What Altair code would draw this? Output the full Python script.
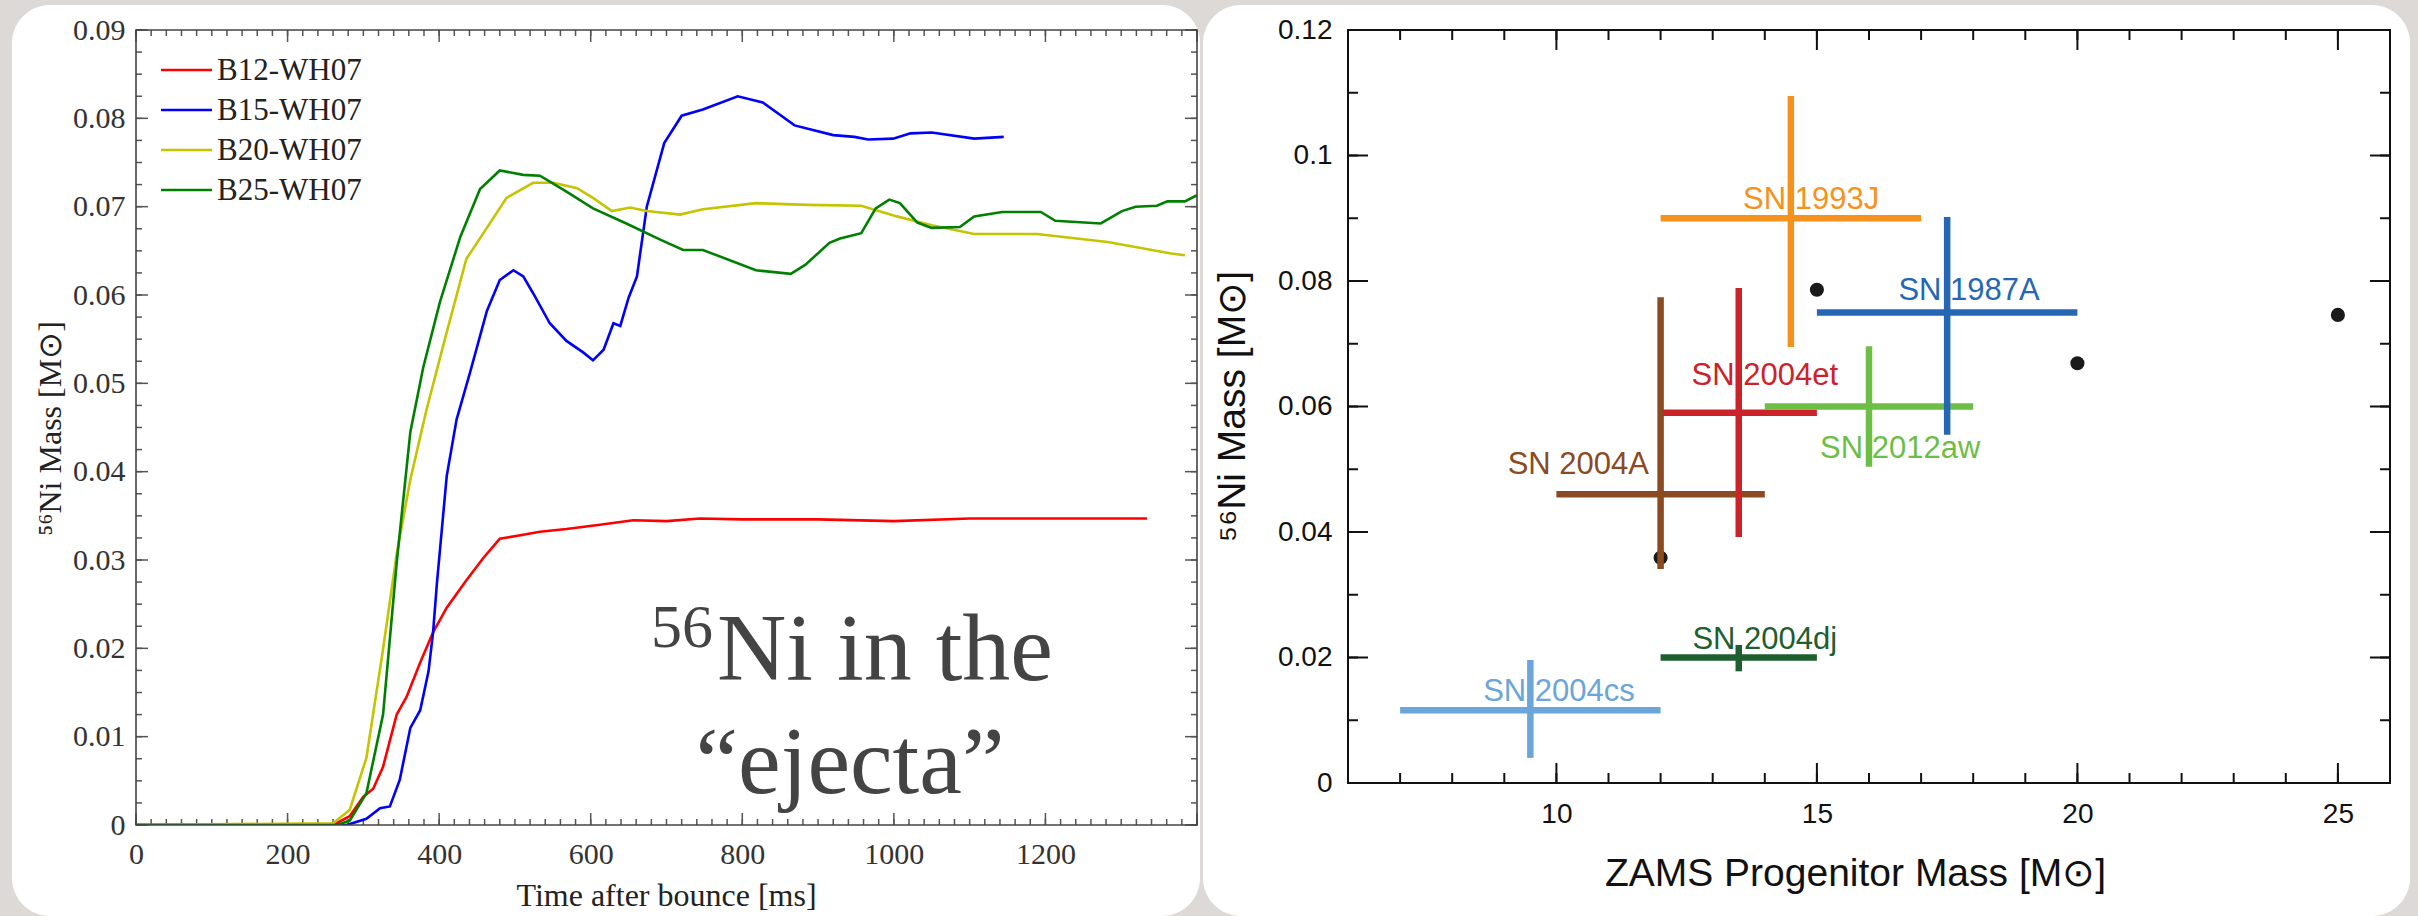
import altair as alt
import pandas as pd

# ---------------- Left panel: 56Ni mass vs time after bounce ----------------
series_names = ["B12-WH07", "B15-WH07", "B20-WH07", "B25-WH07"]
series_colors = ["#ff0000", "#0000ff", "#c4c400", "#008000"]

B12_t = [0, 260, 282, 300, 313, 326, 344, 357, 375, 392, 410, 436, 458, 480, 507, 533, 568, 612,
         656, 700, 744, 800, 900, 1000, 1100, 1200, 1334]
B12_m = [0, 0, 0.0010, 0.0032, 0.0041, 0.0066, 0.0125, 0.0145, 0.0184, 0.0218, 0.0246, 0.0277,
         0.0302, 0.0324, 0.0328, 0.0332, 0.0335, 0.0340, 0.0345, 0.0344, 0.0347, 0.0346, 0.0346,
         0.0344, 0.0347, 0.0347, 0.0347]

B15_t = [0, 278, 304, 322, 335, 348, 362, 375, 386, 392, 397, 410, 423, 441, 463, 480, 498, 511,
         524, 546, 568, 590, 603, 617, 630, 639, 650, 661, 674, 697, 720, 748, 794, 827, 869, 920,
         948, 966, 999, 1022, 1050, 1106, 1145]
B15_m = [0, 0, 0.0007, 0.0019, 0.0021, 0.0051, 0.0110, 0.0130, 0.0174, 0.0218, 0.0273, 0.0395,
         0.0459, 0.0513, 0.0582, 0.0617, 0.0628, 0.0621, 0.0602, 0.0568, 0.0548, 0.0535, 0.0526,
         0.0538, 0.0568, 0.0565, 0.0597, 0.0621, 0.0700, 0.0772, 0.0803, 0.0810, 0.0825, 0.0818,
         0.0792, 0.0781, 0.0779, 0.0776, 0.0777, 0.0783, 0.0784, 0.0777, 0.0779]

B20_t = [0, 260, 282, 304, 326, 344, 362, 383, 410, 436, 463, 489, 524, 551, 582, 603, 628, 652,
         674, 718, 748, 818, 887, 957, 1004, 1050, 1106, 1189, 1282, 1366, 1384]
B20_m = [0, 0.0002, 0.0017, 0.0076, 0.0199, 0.0307, 0.0391, 0.0469, 0.0558, 0.0641, 0.0676,
         0.0710, 0.0727, 0.0727, 0.0721, 0.0710, 0.0695, 0.0699, 0.0695, 0.0691, 0.0697, 0.0704,
         0.0702, 0.0701, 0.0689, 0.0679, 0.0669, 0.0669, 0.0660, 0.0647, 0.0645]

B25_t = [0, 265, 282, 304, 326, 344, 362, 379, 401, 428, 454, 480, 511, 533, 568, 603, 647, 691,
         722, 748, 818, 864, 883, 915, 929, 957, 976, 994, 1008, 1031, 1050, 1087, 1106, 1143,
         1194, 1213, 1273, 1301, 1319, 1347, 1361, 1384, 1400]
B25_m = [0, 0, 0.0005, 0.0036, 0.0125, 0.0297, 0.0445, 0.0518, 0.0592, 0.0666, 0.0720, 0.0741,
         0.0736, 0.0735, 0.0717, 0.0698, 0.0681, 0.0663, 0.0651, 0.0651, 0.0628, 0.0624, 0.0634,
         0.0659, 0.0664, 0.0670, 0.0698, 0.0708, 0.0704, 0.0682, 0.0676, 0.0677, 0.0689, 0.0694,
         0.0694, 0.0684, 0.0681, 0.0695, 0.0700, 0.0701, 0.0706, 0.0706, 0.0713]

left_x_labels = [0, 200, 400, 600, 800, 1000, 1200]
left_y_labels = [0, 0.01, 0.02, 0.03, 0.04, 0.05, 0.06, 0.07, 0.08, 0.09]
left_x_major = [0, 200, 400, 600, 800, 1000, 1200, 1400]
left_x_minor = list(range(0, 1401, 20))
left_y_minor = [k * 0.0025 for k in range(37)]

annot_sup = "56"
annot_lines = ["Ni in the", "\u201cejecta\u201d"]

# ---------------- Right panel: SN crosses ----------------
sn_names = ["SN 1993J", "SN 1987A", "SN 2004et", "SN 2004A", "SN 2012aw", "SN 2004dj", "SN 2004cs"]
sn_colors = ["#f5921e", "#2567b4", "#cc2229", "#8b4a22", "#6dbe45", "#1e5e2f", "#6ba5da"]
sn_x = [14.5, 17.5, 13.5, 12.0, 16.0, 13.5, 9.5]
sn_xlo = [12.0, 15.0, 12.0, 10.0, 14.0, 12.0, 7.0]
sn_xhi = [17.0, 20.0, 15.0, 14.0, 18.0, 15.0, 12.0]
sn_y = [0.090, 0.075, 0.059, 0.046, 0.060, 0.020, 0.0116]
sn_ylo = [0.0695, 0.0555, 0.0392, 0.0341, 0.0504, 0.0178, 0.0040]
sn_yhi = [0.1095, 0.0902, 0.0789, 0.0774, 0.0696, 0.0220, 0.0196]
sn_label_x = [14.89, 17.92, 14.0, 10.42, 16.6, 14.0, 10.05]
sn_label_y = [0.0915, 0.0769, 0.0634, 0.0492, 0.0518, 0.0213, 0.0131]

model_mass = [12, 15, 20, 25]
model_ni = [0.0359, 0.0786, 0.0669, 0.0746]

right_x_labels = [10, 15, 20, 25]
right_y_labels = [0, 0.02, 0.04, 0.06, 0.08, 0.1, 0.12]
right_x_minor = list(range(6, 27))
right_y_minor = [k * 0.01 for k in range(13)]

# ---------------- sizes / styles ----------------
WL, HL = 1061, 795
WR, HR = 1042, 753
SERIF = "Liberation Serif"
SANS = "Liberation Sans"

one = pd.DataFrame({"a": [0]})

xL = alt.Scale(domain=[0, 1400], nice=False, zero=False)
yL = alt.Scale(domain=[0, 0.09], nice=False, zero=False)
cL = alt.Scale(domain=series_names, range=series_colors)

axXL = alt.Axis(
    values=left_x_labels, format="d", labelFont=SERIF, labelFontSize=30, labelColor="#333",
    labelPadding=14, labelFlush=False, ticks=False, tickSize=0, domain=False, grid=False,
    title="Time after bounce [ms]", titleFont=SERIF, titleFontSize=32, titleFontWeight="normal",
    titleColor="#222", titleX=530, titleY=80, titleBaseline="alphabetic", titleAlign="center",
    zindex=2)
axYL = alt.Axis(
    values=left_y_labels, format=".2~f", labelFont=SERIF, labelFontSize=30, labelColor="#333",
    labelPadding=11, labelFlush=False, ticks=False, tickSize=0, domain=False, grid=False,
    title="\u2075\u2076Ni Mass [M\u2299]", titleFont=SERIF, titleFontSize=32,
    titleFontWeight="normal", titleColor="#222", titleX=-86, titleY=398, titleAngle=270,
    titleBaseline="middle", titleAlign="center", zindex=2)

xR = alt.Scale(domain=[6, 26], nice=False, zero=False)
yR = alt.Scale(domain=[0, 0.12], nice=False, zero=False)
cR = alt.Scale(domain=sn_names, range=sn_colors)

axXR = alt.Axis(
    values=right_x_labels, format="d", labelFont=SANS, labelFontSize=28, labelColor="#111",
    labelPadding=17, labelFlush=False, ticks=False, tickSize=0, domain=False, grid=False,
    title="ZAMS Progenitor Mass [M\u2299]", titleFont=SANS, titleFontSize=39,
    titleFontWeight="normal", titleColor="#111", titleX=507, titleY=102,
    titleBaseline="alphabetic", titleAlign="center", zindex=2)
axYR = alt.Axis(
    values=right_y_labels, format=".2~f", labelFont=SANS, labelFontSize=28, labelColor="#111",
    labelPadding=16, labelFlush=False, ticks=False, tickSize=0, domain=False, grid=False,
    title="\u2075\u2076Ni Mass [M\u2299]", titleFont=SANS, titleFontSize=39,
    titleFontWeight="normal", titleColor="#111", titleX=-116, titleY=376, titleAngle=270,
    titleBaseline="middle", titleAlign="center", zindex=2)


def tick_layers(xs_minor, xs_major, ys_minor, ys_major, xs, ys, ax, ay, W, H, lmin, lmaj,
                color, width):
    layers = []
    for vals, L in ((xs_minor, lmin), (xs_major, lmaj)):
        df = pd.DataFrame({"v": vals})
        for y0, y1 in ((H, H - L), (0, L)):
            layers.append(alt.Chart(df).mark_rule(color=color, strokeWidth=width).encode(
                x=alt.X("v:Q", scale=xs, axis=ax), y=alt.value(y0), y2=alt.value(y1)))
    for vals, L in ((ys_minor, lmin), (ys_major, lmaj)):
        df = pd.DataFrame({"v": vals})
        for x0, x1 in ((0, L), (W, W - L)):
            layers.append(alt.Chart(df).mark_rule(color=color, strokeWidth=width).encode(
                y=alt.Y("v:Q", scale=ys, axis=ay), x=alt.value(x0), x2=alt.value(x1)))
    return layers


# ======== LEFT ========
rows = []
for name, ts, ms in zip(series_names, [B12_t, B15_t, B20_t, B25_t], [B12_m, B15_m, B20_m, B25_m]):
    for t, m in zip(ts, ms):
        rows.append({"series": name, "t": t, "m": m})
lines_df = pd.DataFrame(rows)

panelL = alt.Chart(one).mark_rect(color="white", cornerRadius=38).encode(
    x=alt.value(-124), x2=alt.value(1064), y=alt.value(-25), y2=alt.value(886))

lines = alt.Chart(lines_df).mark_line(strokeWidth=2.6, clip=True).encode(
    x=alt.X("t:Q", scale=xL, axis=axXL),
    y=alt.Y("m:Q", scale=yL, axis=axYL),
    color=alt.Color("series:N", scale=cL, legend=None),
)

ticksL = tick_layers(left_x_minor, left_x_major, left_y_minor, left_y_labels, xL, yL, axXL, axYL,
                     WL, HL, 6, 12, "#555", 1.5)

frameL = alt.Chart(one).mark_rect(fillOpacity=0, stroke="#444", strokeWidth=1.6).encode(
    x=alt.value(0), x2=alt.value(WL), y=alt.value(0), y2=alt.value(HL))

legend_layers = []
for i, (name, col) in enumerate(zip(series_names, series_colors)):
    yy = 40 + 40 * i
    legend_layers.append(alt.Chart(one).mark_rule(color=col, strokeWidth=2.6).encode(
        x=alt.value(25), x2=alt.value(76), y=alt.value(yy)))
    legend_layers.append(alt.Chart(one).mark_text(
        font=SERIF, fontSize=31, color="#222", align="left", baseline="middle").encode(
        x=alt.value(81), y=alt.value(yy + 1), text=alt.value(name)))

annot = [
    alt.Chart(one).mark_text(font=SERIF, fontSize=62, color="#444", align="right",
                             baseline="alphabetic").encode(
        x=alt.value(577), y=alt.value(617), text=alt.value(annot_sup)),
    alt.Chart(one).mark_text(font=SERIF, fontSize=96, color="#444", align="left",
                             baseline="alphabetic").encode(
        x=alt.value(581), y=alt.value(650), text=alt.value(annot_lines[0])),
    alt.Chart(one).mark_text(font=SERIF, fontSize=96, color="#444", align="center",
                             baseline="alphabetic").encode(
        x=alt.value(714), y=alt.value(763), text=alt.value(annot_lines[1])),
]

left = alt.layer(panelL, *ticksL, lines, frameL, *legend_layers, *annot).properties(
    width=WL, height=HL)

# ======== RIGHT ========
sn_df = pd.DataFrame({
    "name": sn_names, "x": sn_x, "xlo": sn_xlo, "xhi": sn_xhi,
    "y": sn_y, "ylo": sn_ylo, "yhi": sn_yhi, "lx": sn_label_x, "ly": sn_label_y,
})
model_df = pd.DataFrame({"mass": model_mass, "ni": model_ni})

panelR = alt.Chart(one).mark_rect(color="white", cornerRadius=38).encode(
    x=alt.value(-145), x2=alt.value(1062), y=alt.value(-25), y2=alt.value(886))

ticksR = tick_layers(right_x_minor, right_x_labels, right_y_minor, right_y_labels, xR, yR,
                     axXR, axYR, WR, HR, 10, 20, "#111", 2)

labels = alt.Chart(sn_df).mark_text(font=SANS, fontSize=31, align="center",
                                    baseline="alphabetic").encode(
    x=alt.X("lx:Q", scale=xR, axis=axXR), y=alt.Y("ly:Q", scale=yR, axis=axYR),
    text="name:N", color=alt.Color("name:N", scale=cR, legend=None))

dots = alt.Chart(model_df).mark_circle(size=200, color="#1a1a1a", opacity=1).encode(
    x=alt.X("mass:Q", scale=xR, axis=axXR), y=alt.Y("ni:Q", scale=yR, axis=axYR))

hbars = alt.Chart(sn_df).mark_rule(strokeWidth=6.5).encode(
    x=alt.X("xlo:Q", scale=xR, axis=axXR), x2="xhi:Q",
    y=alt.Y("y:Q", scale=yR, axis=axYR),
    color=alt.Color("name:N", scale=cR, legend=None))

vbars = alt.Chart(sn_df).mark_rule(strokeWidth=6.5).encode(
    x=alt.X("x:Q", scale=xR, axis=axXR),
    y=alt.Y("ylo:Q", scale=yR, axis=axYR), y2="yhi:Q",
    color=alt.Color("name:N", scale=cR, legend=None))

frameR = alt.Chart(one).mark_rect(fillOpacity=0, stroke="#111", strokeWidth=2).encode(
    x=alt.value(0), x2=alt.value(WR), y=alt.value(0), y2=alt.value(HR))

right = alt.layer(panelR, *ticksR, labels, dots, hbars, vbars, frameR).properties(
    width=WR, height=HR)

chart = alt.hconcat(left, right, spacing=151, bounds="flush").resolve_scale(
    color="independent"
).properties(
    background="#dcd9d6",
    padding={"left": 12, "top": 5, "right": 8, "bottom": 0},
).configure_view(stroke=None)

chart.save("out.html", embed_options={"renderer": "svg", "actions": False})
